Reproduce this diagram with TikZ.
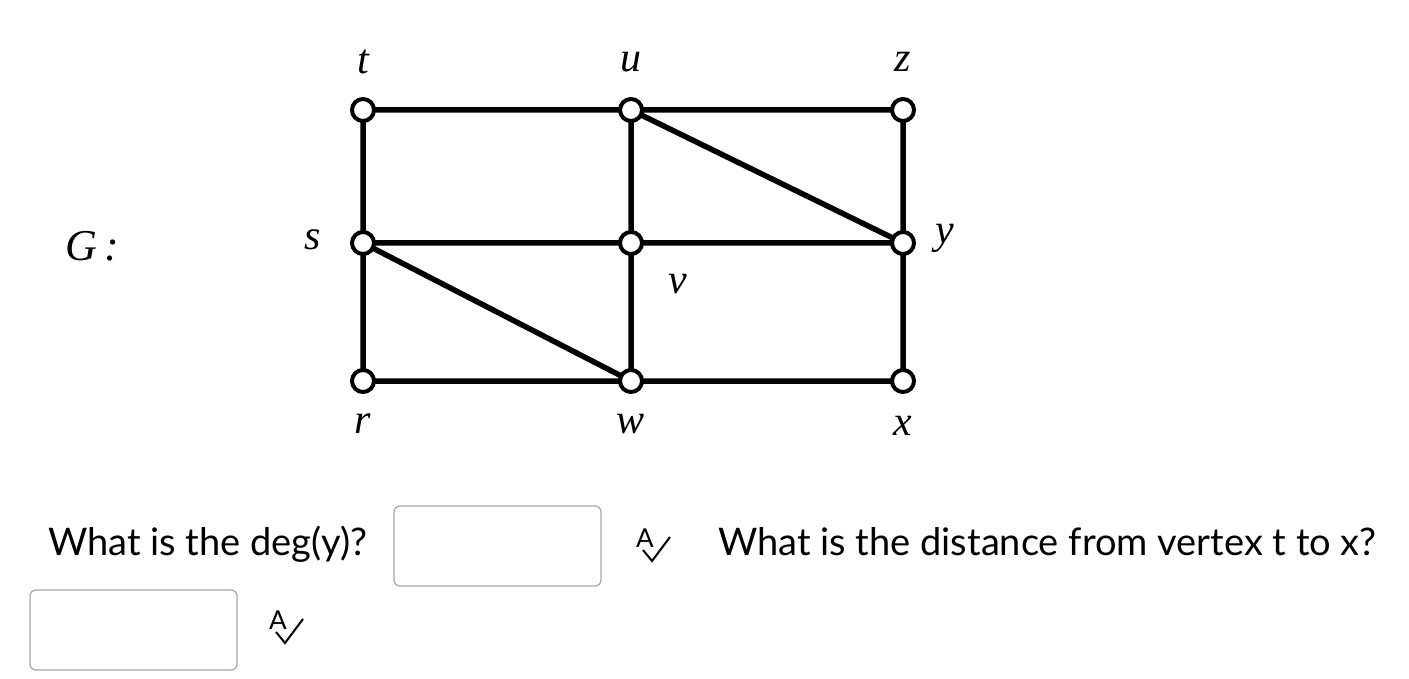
\documentclass[tikz,border=0pt]{standalone}
\usepackage{fontspec}
\setmainfont{Lato}
\newfontfamily\gfont{Liberation Serif}
\begin{document}
\begin{tikzpicture}[x=1pt,y=-1pt,
  vert/.style={circle,draw,line width=4pt,fill=white,minimum size=22pt,inner sep=0pt},
  edge/.style={line width=5.5pt},
  lbl/.style={font=\gfont\itshape\fontsize{42}{42}\selectfont},
  qtext/.style={font=\fontsize{38}{38}\selectfont,anchor=base west,inner sep=0pt},
  abox/.style={draw=black!35,line width=1.2pt,rounded corners=6pt},
  icon/.style={font=\fontsize{26}{26}\selectfont}]
\useasboundingbox (0,0) rectangle (1409,679);
\coordinate (t) at (363,110); \coordinate (u) at (631,110); \coordinate (z) at (903,110);
\coordinate (s) at (363,243); \coordinate (v) at (631,243); \coordinate (y) at (903,243);
\coordinate (r) at (363,381); \coordinate (w) at (631,381); \coordinate (x) at (903,381);
\draw[edge] (t)--(u)--(z) (s)--(v)--(y) (r)--(w)--(x)
  (t)--(s)--(r) (u)--(v)--(w) (z)--(y)--(x) (u)--(y) (s)--(w);
\foreach \n in {t,u,z,s,v,y,r,w,x} \node[vert] (n\n) at (\n) {};
\node[lbl] (lt) at (363,62) {t};
\node[lbl] (lu) at (631,62) {u};
\node[lbl] (lz) at (903,62) {z};
\node[lbl] (ls) at (313,240) {s};
\node[lbl] (ly) at (945,238) {y};
\node[lbl] (lv) at (678,284) {v};
\node[lbl] (lr) at (363,424) {r};
\node[lbl] (lw) at (631,424) {w};
\node[lbl] (lx) at (903,426) {x};
\node[lbl,font=\gfont\itshape\fontsize{44}{44}\selectfont] (G) at (92,246) {G\,:};
\node[qtext] (q1) at (48,555) {What is the deg(y)?};
\draw[abox] (394,506) rectangle (601,586);
\node[icon] (i1) at (645,538) {A};
\draw[line width=2pt] (643,550)--(652,561)--(670,537);
\node[qtext] (q2) at (718,555) {What is the distance from vertex t to x?};
\draw[abox] (30,590) rectangle (237,670);
\node[icon] (i2) at (278,620) {A};
\draw[line width=2pt] (276,632)--(285,643)--(303,619);
\end{tikzpicture}
\end{document}
